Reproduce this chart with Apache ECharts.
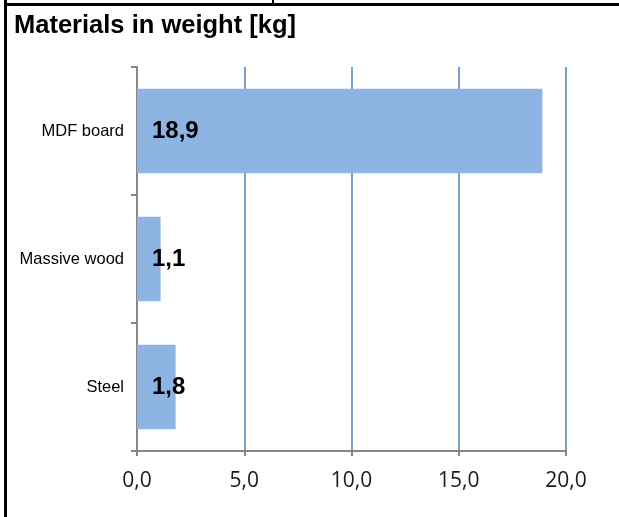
<!DOCTYPE html>
<html><head><meta charset="utf-8">
<script src="https://cdn.jsdelivr.net/npm/echarts@6/dist/echarts.min.js"></script>
<style>html,body{margin:0;padding:0;background:#fff}#c{width:619px;height:517px}</style>
</head><body><div id="c"></div>
<script>
var categories = ['MDF board', 'Massive wood', 'Steel'];
var values = [18.9, 1.1, 1.8];
var titleText = 'Materials in weight [kg]';

var fmt = function (v) { return Number(v).toFixed(1).replace('.', ','); };
var chart = echarts.init(document.getElementById('c'), null, {renderer: 'canvas'});
chart.setOption({
  backgroundColor: '#fff',
  animation: false,
  title: {
    text: titleText, left: 9, top: 8,
    textStyle: {fontFamily: 'Liberation Sans, Arial', fontWeight: 'bold', fontSize: 25.5, color: '#000'}
  },
  grid: {left: 137, right: 53, top: 67, bottom: 66, containLabel: false},
  xAxis: {
    type: 'value', min: 0, max: 20, interval: 5,
    axisLine: {show: true, lineStyle: {color: '#868686', width: 2}},
    axisTick: {show: true, length: 5, lineStyle: {color: '#868686', width: 2}},
    axisLabel: {formatter: fmt, margin: 20, fontFamily: 'Open Sans', fontSize: 21, color: '#1a1a1a'},
    splitLine: {show: true, lineStyle: {color: '#4a7ebb', width: 1.5}}
  },
  yAxis: {
    type: 'category', data: categories, inverse: true,
    axisLine: {show: true, lineStyle: {color: '#868686', width: 2}},
    axisTick: {show: true, length: 6, lineStyle: {color: '#868686', width: 2}},
    axisLabel: {margin: 13, fontFamily: 'Liberation Sans, Arial', fontSize: 16.5, color: '#000'}
  },
  series: [{
    type: 'bar', data: values, barCategoryGap: '34%',
    itemStyle: {color: '#8eb4e3'},
    label: {
      show: true, position: 'insideLeft', distance: 15,
      formatter: function (p) { return fmt(p.value); },
      fontFamily: 'Liberation Sans, Arial', fontWeight: 'bold', fontSize: 24, color: '#000'
    }
  }],
  graphic: [
    {type: 'rect', shape: {x: 4, y: 0, width: 3, height: 517}, style: {fill: '#000'}},
    {type: 'rect', shape: {x: 4, y: 3, width: 615, height: 3}, style: {fill: '#000'}},
    {type: 'rect', shape: {x: 272, y: 0, width: 2, height: 4}, style: {fill: '#000'}}
  ]
});
</script></body></html>
